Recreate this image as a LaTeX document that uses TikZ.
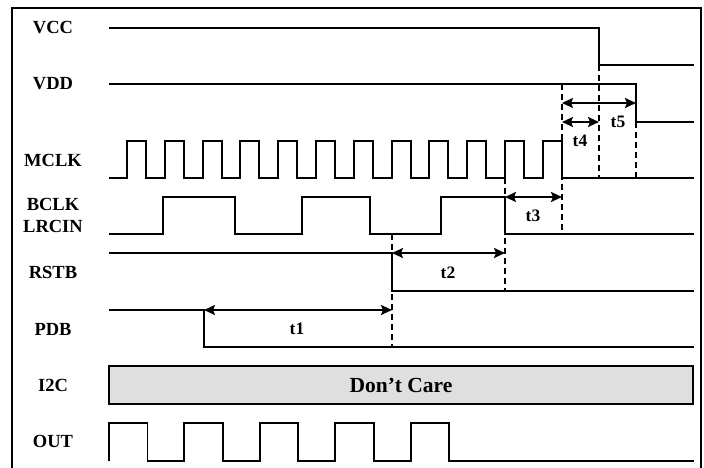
\documentclass[tikz,border=0pt]{standalone}
\usepackage{fontspec}
\setmainfont{Liberation Serif}
\usetikzlibrary{arrows.meta}

\tikzset{
	wave/.style={line width=1.9pt},
	guide/.style={line width=1.9pt, dash pattern=on 6pt off 4pt},
	span/.style={line width=1.9pt, {Stealth[length=11pt,width=10pt,inset=2pt]}-{Stealth[length=11pt,width=10pt,inset=2pt]}},
	sname/.style={font=\fontsize{18.5}{20}\selectfont\bfseries},
	tname/.style={font=\fontsize{17.5}{18}\selectfont\bfseries}
}

\begin{document}
\begin{tikzpicture}[x=1pt, y=-1pt, line join=miter]
		\useasboundingbox (0,0) rectangle (704,468);
		\draw[line width=1.9pt] (12,468) -- (12,8) -- (701,8) -- (701,468);
		% signal names
		\foreach \y/\t in {28/VCC, 84/VDD, 160/MCLK, 204/BCLK, 226/LRCIN, 272/RSTB, 329/PDB, 385/I2C, 441/OUT}
		\node[sname] (\t) at (53,\y) {\t};
		% waveforms
		\draw[wave] (109,28) -- (599,28) -- (599,65) -- (694,65);
		\draw[wave] (109,84) -- (636,84) -- (636,122) -- (694,122);
		\draw[wave] (109,178) foreach \k in {0,...,11} { -- ({127+37.8*\k},178) -- ++(0,-37) -- ++(19,0) -- ++(0,37) } -- (694,178);
		\draw[wave] (109,234) -- (163,234) -- (163,197) -- (235,197) -- (235,234) -- (302,234) -- (302,197) -- (370,197)
			-- (370,234) -- (441,234) -- (441,197) -- (505,197) -- (505,234) -- (694,234);
		\draw[wave] (109,253) -- (392,253) -- (392,291) -- (694,291);
		\draw[wave] (109,310) -- (204,310) -- (204,347) -- (694,347);
		\draw[wave, fill=gray!25] (109,366) rectangle (693,404);
		\node[font=\fontsize{21.5}{24}\selectfont\bfseries] (care) at (401,385) {Don’t Care};
		\draw[wave] (109,461) foreach \k in {0,...,4} { -- ({109+75.4*\k},461) -- ++(0,-38) -- ++(38.5,0) -- ++(0,38) } -- (694,461);
		% timing marks
		\coordinate (pdbfall) at (204,310);
		\coordinate (rstfall) at (392,253);
		\coordinate (bckfall) at (505,197);
		\coordinate (mckstop) at (562,84);
		\coordinate (vccfall) at (599,65);
		\coordinate (vddfall) at (636,122);
		\draw[guide] (392,234) -- (392,347);
		\draw[guide] (505,178) -- (505,291);
		\draw[guide] (mckstop) -- (562,234);
		\draw[guide] (vccfall) -- (599,178);
		\draw[guide] (vddfall) -- (636,178);
		\draw[span] (pdbfall) -- (pdbfall -| rstfall);
		\draw[span] (rstfall) -- (rstfall -| bckfall);
		\draw[span] (bckfall) -- (bckfall -| mckstop);
		\draw[span] (mckstop |- vddfall) -- (vccfall |- vddfall);
		\draw[span] (562,103) -- (636,103);
		\node[tname] (t1) at (297,329) {t1};
		\node[tname] (t2) at (448,273) {t2};
		\node[tname] (t3) at (533,216) {t3};
		\node[tname] (t4) at (580,141) {t4};
		\node[tname] (t5) at (618,122) {t5};
	\end{tikzpicture}
\end{document}
